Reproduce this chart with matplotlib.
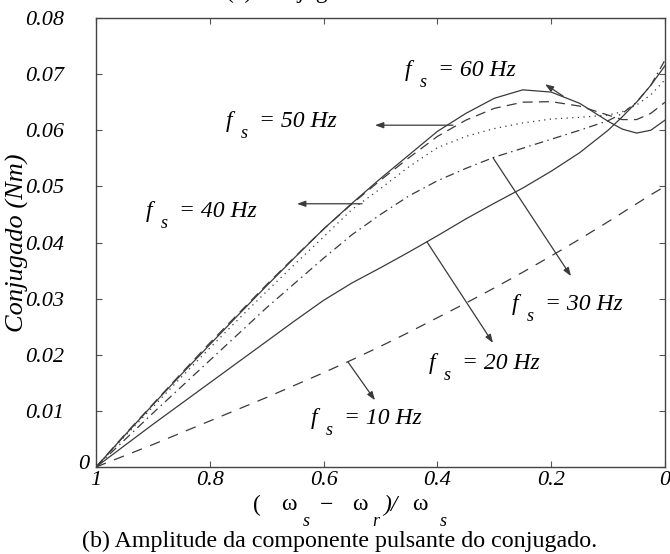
import matplotlib
matplotlib.use("Agg")
import matplotlib.pyplot as plt

plt.rcParams["font.family"] = ["Liberation Serif", "DejaVu Serif"]

# Slip axis (ws - wr)/ws, from standstill (1) to synchronism (0)
slip = [1.0, 0.95, 0.9, 0.85, 0.8, 0.75, 0.7, 0.65, 0.6, 0.55, 0.5, 0.45,
        0.4, 0.35, 0.3, 0.25, 0.2, 0.15, 0.1, 0.075, 0.05, 0.025, 0.0]

# Pulsating torque amplitude (Nm) for each supply frequency
torque_60hz = [0.0, 0.0056, 0.0111, 0.0165, 0.0218, 0.0271, 0.0323, 0.0374, 0.0424,
               0.0470, 0.0514, 0.0556, 0.0598, 0.0630, 0.0657, 0.0672, 0.0668,
               0.0648, 0.0616, 0.0602, 0.0595, 0.0600, 0.0618]
torque_50hz = [0.0, 0.0057, 0.0112, 0.0167, 0.0221, 0.0273, 0.0325, 0.0375, 0.0424,
               0.0469, 0.0511, 0.0551, 0.0589, 0.0618, 0.0639, 0.0650, 0.0651,
               0.0643, 0.0627, 0.0619, 0.0619, 0.0630, 0.0650]
torque_40hz = [0.0, 0.0054, 0.0107, 0.0160, 0.0212, 0.0263, 0.0313, 0.0362, 0.0410,
               0.0459, 0.0496, 0.0535, 0.0569, 0.0589, 0.0603, 0.0613, 0.0620,
               0.0623, 0.0627, 0.0633, 0.0645, 0.0663, 0.0690]
torque_30hz = [0.0, 0.0048, 0.0096, 0.0143, 0.0190, 0.0237, 0.0284, 0.0328, 0.0372,
               0.0414, 0.0450, 0.0483, 0.0510, 0.0532, 0.0552, 0.0568, 0.0584,
               0.0600, 0.0617, 0.0630, 0.0650, 0.0680, 0.0725]
torque_20hz = [0.0, 0.0038, 0.0076, 0.0113, 0.0150, 0.0187, 0.0224, 0.0261, 0.0297,
               0.0328, 0.0355, 0.0383, 0.0412, 0.0442, 0.0470, 0.0497, 0.0527,
               0.0560, 0.0600, 0.0624, 0.0650, 0.0680, 0.0715]
torque_10hz = [0.0, 0.0020, 0.0040, 0.0061, 0.0082, 0.0103, 0.0124, 0.0146, 0.0168,
               0.0191, 0.0215, 0.0240, 0.0266, 0.0292, 0.0319, 0.0347, 0.0376,
               0.0406, 0.0437, 0.0453, 0.0469, 0.0485, 0.0500]

x_ticks = [1.0, 0.8, 0.6, 0.4, 0.2, 0.0]
x_tick_labels = ["1", "0.8", "0.6", "0.4", "0.2", "0"]
y_ticks = [0.0, 0.01, 0.02, 0.03, 0.04, 0.05, 0.06, 0.07, 0.08]
y_tick_labels = ["", "0.01", "0.02", "0.03", "0.04", "0.05", "0.06", "0.07", "0.08"]

# Curve labels: text, label anchor (slip, torque), arrow tail and arrow head
labels = ["60", "50", "40", "30", "20", "10"]
label_pos = [(0.4569, 0.0707), (0.7715, 0.0616), (0.9121, 0.0456),
             (0.2689, 0.0290), (0.4148, 0.0185), (0.6221, 0.0086)]
arrow_tail = [(0.1793, 0.0661), (0.3726, 0.0609), (0.5325, 0.0469),
              (0.3023, 0.0551), (0.4183, 0.0401), (0.5571, 0.0187)]
arrow_head = [(0.2109, 0.0682), (0.5097, 0.0609), (0.6467, 0.0469),
              (0.1652, 0.0340), (0.3023, 0.0221), (0.5097, 0.0119)]

ink = "#3a3a3a"
lw = 0.9

fig = plt.figure(figsize=(6.70, 5.54), dpi=100)
ax = fig.add_axes([96 / 670, 87 / 554, 569 / 670, 449 / 554])

ax.plot(slip, torque_60hz, color=ink, lw=lw, ls="-")
ax.plot(slip, torque_50hz, color=ink, lw=lw, ls=(0, (8, 5)))
ax.plot(slip, torque_40hz, color=ink, lw=lw, ls=(0, (1, 3.5)))
ax.plot(slip, torque_30hz, color=ink, lw=lw, ls=(0, (7, 3.5, 1.2, 3.5)))
ax.plot(slip, torque_20hz, color=ink, lw=lw, ls="-")
ax.plot(slip, torque_10hz, color=ink, lw=lw, ls=(0, (8.5, 7)))

ax.set_xlim(1.0, 0.0)
ax.set_ylim(0.0, 0.08)
ax.set_xticks(x_ticks)
ax.set_xticklabels(x_tick_labels)
ax.set_yticks(y_ticks)
ax.set_yticklabels(y_tick_labels)
ax.tick_params(direction="in", length=4, width=0.8, color="#555555",
               top=True, right=True, labelsize=16, pad=3)
ax.tick_params(axis="y", pad=23)
for lab in ax.get_xticklabels() + ax.get_yticklabels():
    lab.set_fontstyle("italic")
for sp in ax.spines.values():
    sp.set_color("#444444")
    sp.set_linewidth(1.0)

# origin label for the torque axis sits close to the corner
ax.text(-0.012, 0.006, "0", transform=ax.transAxes, ha="right", va="center",
        fontsize=16, style="italic")

px = 0.72  # points per pixel at 100 dpi
for txt, pos, tail, head in zip(labels, label_pos, arrow_tail, arrow_head):
    ax.annotate("", xy=head, xytext=tail,
                arrowprops=dict(arrowstyle="-|>,head_length=0.5,head_width=0.18",
                                color=ink, lw=0.9, shrinkA=0, shrinkB=0))
    ax.text(pos[0], pos[1], "f", fontsize=17, style="italic", ha="left", va="center")
    ax.annotate("s", xy=pos, xytext=(15 * px, -12 * px), textcoords="offset points",
                fontsize=13, style="italic", ha="left", va="center")
    ax.annotate("= " + txt + " Hz", xy=pos, xytext=(33 * px, 0),
                textcoords="offset points", fontsize=17, style="italic",
                ha="left", va="center")

# vertical axis title, centred on the plot height
fig.text(17 / 670, (87 + 449 / 2) / 554, "Conjugado (Nm)", fontsize=19,
         style="italic", rotation=90, ha="center", va="center")

# slip axis title, built from pieces to keep the wide spacing
xl_y = 1 - 505 / 554
sub_y = 1 - 522 / 554
fig.text(253 / 670, xl_y, "(", fontsize=17, va="center", ha="left")
fig.text(281 / 670, xl_y, "ω", fontsize=17, va="center", ha="left")
fig.text(303 / 670, sub_y, "s", fontsize=13, style="italic", va="center", ha="left")
fig.text(320 / 670, xl_y, "−", fontsize=17, va="center", ha="left")
fig.text(352 / 670, xl_y, "ω", fontsize=17, va="center", ha="left")
fig.text(372 / 670, sub_y, "r", fontsize=13, style="italic", va="center", ha="left")
fig.text(383 / 670, xl_y, ")/", fontsize=17, style="italic", va="center", ha="left")
fig.text(412 / 670, xl_y, "ω", fontsize=17, va="center", ha="left")
fig.text(440 / 670, sub_y, "s", fontsize=13, style="italic", va="center", ha="left")

fig.text(82 / 670, 1 - 541 / 554, "(b) Amplitude da componente pulsante do conjugado.",
         fontsize=17.3, va="center", ha="left")
fig.text(226 / 670, 1.0 + 2 / 554, "(a) Conjugado", fontsize=17, va="baseline", ha="left")

fig.savefig("out.png", dpi=100)
